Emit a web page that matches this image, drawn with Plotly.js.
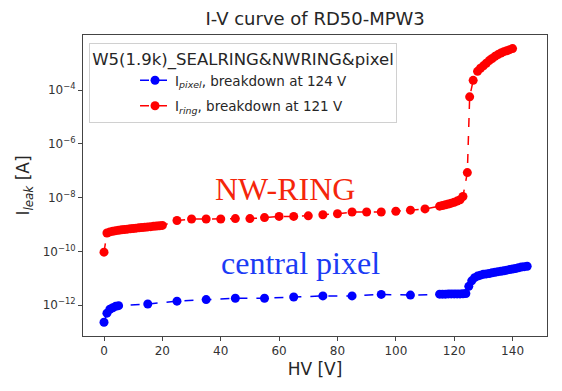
<!DOCTYPE html>
<html>
<head>
<meta charset="utf-8">
<script src="https://cdn.plot.ly/plotly-3.0.1.min.js"></script>
<style>
  html, body { margin: 0; padding: 0; background: #fff; }
  #IVChart { width: 562px; height: 391px; }
</style>
</head>
<body>
<div id="IVChart"></div>
<script>
// bias voltage [V] and leakage current [A]
var ringV = [0, 1, 2, 3, 4, 5, 6, 7, 8, 9, 10, 11, 12, 13, 14, 15, 16, 17, 18, 19, 20,
  25, 30, 35, 40, 45, 50, 55, 60, 65, 70, 75, 80, 85, 90, 95, 100, 105, 110,
  115, 116, 117, 118, 119, 120, 121, 122, 123, 124.5, 125.3, 126.5,
  128, 129, 130, 131, 132, 133, 134, 135, 136, 137, 138, 139, 140];
var ringI = [9.3e-11, 4.8e-10, 5.3e-10, 5.6e-10, 5.9e-10, 6.1e-10, 6.3e-10, 6.5e-10, 6.7e-10, 6.9e-10,
  7.1e-10, 7.3e-10, 7.5e-10, 7.7e-10, 7.9e-10, 8.1e-10, 8.3e-10, 8.5e-10, 8.7e-10, 8.9e-10, 9.2e-10,
  1.4e-9, 1.6e-9, 1.6e-9, 1.6e-9, 1.65e-9, 1.65e-9, 1.8e-9, 2.0e-9, 2.0e-9, 2.1e-9, 2.3e-9,
  2.5e-9, 2.9e-9, 2.9e-9, 2.9e-9, 3.1e-9, 3.4e-9, 3.8e-9,
  4.8e-9, 5.1e-9, 5.4e-9, 5.8e-9, 6.2e-9, 6.7e-9, 7.4e-9, 8.3e-9, 1.1e-8, 8.5e-8, 5.6e-5, 2.3e-4,
  5.0e-4, 6.5e-4, 8.0e-4, 1.0e-3, 1.25e-3, 1.5e-3, 1.8e-3, 2.1e-3, 2.4e-3, 2.7e-3, 2.9e-3, 3.2e-3, 3.5e-3];

var pixelV = [0, 1, 2, 3, 4, 5, 15, 25, 35, 45, 55, 65, 75, 85, 95, 105,
  115, 116, 117, 118, 119, 120, 121, 122, 123, 124,
  125, 126, 127, 128, 129, 130, 131, 132, 133, 134, 135, 136, 137, 138, 139, 140, 141, 142, 143, 144, 145];
var pixelI = [2.3e-13, 5.0e-13, 7.0e-13, 8.0e-13, 9.0e-13, 9.5e-13, 1.1e-12, 1.4e-12, 1.6e-12, 1.8e-12,
  1.8e-12, 2.0e-12, 2.2e-12, 2.2e-12, 2.5e-12, 2.35e-12,
  2.55e-12, 2.55e-12, 2.55e-12, 2.6e-12, 2.6e-12, 2.6e-12, 2.6e-12, 2.6e-12, 2.65e-12, 2.7e-12,
  5.0e-12, 8.0e-12, 1.05e-11, 1.2e-11, 1.3e-11, 1.4e-11, 1.45e-11, 1.5e-11, 1.6e-11, 1.65e-11,
  1.75e-11, 1.8e-11, 1.9e-11, 2.0e-11, 2.1e-11, 2.2e-11, 2.3e-11, 2.45e-11, 2.6e-11, 2.7e-11, 2.8e-11];

var yTicks = [1e-12, 1e-10, 1e-8, 1e-6, 1e-4];
var yTickText = ['10<sup>\u221212</sup>', '10<sup>\u221210</sup>', '10<sup>\u22128</sup>',
  '10<sup>\u22126</sup>', '10<sup>\u22124</sup>'];

var legendTitle = 'W5(1.9k)_SEALRING&NWRING&pixel';
var pixelName = 'I<sub><i>pixel</i></sub>, breakdown at 124 V';
var ringName = 'I<sub><i>ring</i></sub>, breakdown at 121 V';

loadChart();
function loadChart() {

  var pixel = {
    name: pixelName,
    legendgroup: 'pixel',
    x: pixelV,
    y: pixelI,
    mode: 'lines+markers',
    line: { color: '#0000ff', dash: 'dash', width: 1.5 },
    marker: { color: '#0000ff', size: 9 }
  };

  var ring = {
    name: ringName,
    legendgroup: 'ring',
    x: ringV,
    y: ringI,
    mode: 'lines+markers',
    line: { color: '#ff0000', dash: 'dash', width: 1.5 },
    marker: { color: '#ff0000', size: 9 }
  };

  var data = [pixel, ring];

  var layout = {
    width: 562,
    height: 391,
    margin: { l: 83, r: 15, t: 35, b: 55 },
    paper_bgcolor: '#fff',
    plot_bgcolor: '#fff',
    font: { family: 'DejaVu Sans', color: '#262626' },
    title: {
      text: 'I-V curve of RD50-MPW3',
      font: { size: 18, color: '#262626' },
      x: 0.5607, xanchor: 'center',
      y: 0.952, yanchor: 'middle'
    },
    xaxis: {
      title: { text: 'HV [V]', font: { size: 17 }, standoff: 5 },
      range: [-7.2, 151.8],
      dtick: 20,
      tick0: 0,
      ticks: 'outside',
      ticklen: 4,
      tickcolor: '#444',
      tickfont: { size: 12, color: '#333' },
      showline: true,
      linecolor: '#444',
      linewidth: 1,
      mirror: true,
      showgrid: false,
      zeroline: false
    },
    yaxis: {
      title: { text: 'I<sub><i>leak</i></sub> [A]', font: { size: 17 }, standoff: 8 },
      type: 'log',
      range: [-13.15, -1.95],
      tickmode: 'array',
      tickvals: yTicks,
      ticktext: yTickText,
      ticks: 'outside',
      ticklen: 4,
      tickcolor: '#444',
      tickfont: { size: 12, color: '#333' },
      showline: true,
      linecolor: '#444',
      linewidth: 1,
      mirror: true,
      showgrid: false,
      zeroline: false
    },
    legend: {
      x: 0.013, y: 0.975,
      xanchor: 'left', yanchor: 'top',
      bgcolor: '#fff',
      bordercolor: '#d0d0d0',
      borderwidth: 1,
      indentation: 45,
      traceorder: 'grouped',
      tracegroupgap: 5,
      font: { size: 13.5, color: '#262626' },
      title: { text: legendTitle, side: 'top center', font: { size: 16.5, color: '#262626' } }
    },
    showlegend: true,
    annotations: [
      {
        text: 'NW-RING', x: 62, y: -7.67, xref: 'x', yref: 'y',
        showarrow: false,
        font: { family: 'Liberation Serif', size: 32, color: '#f5260a' }
      },
      {
        text: 'central pixel', x: 67.5, y: -10.45, xref: 'x', yref: 'y',
        showarrow: false,
        font: { family: 'Liberation Serif', size: 32, color: '#1b3bf5' }
      }
    ]
  };

  Plotly.newPlot('IVChart', data, layout, { displayModeBar: false, staticPlot: true });
}
</script>
</body>
</html>
